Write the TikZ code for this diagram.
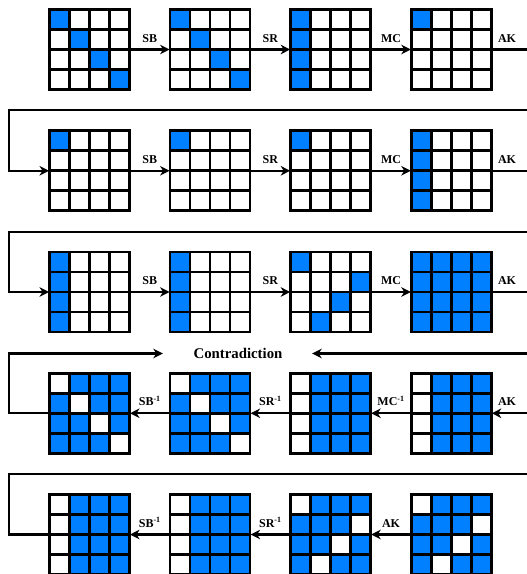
\documentclass[tikz,border=0pt]{standalone}
\usepackage{fontspec}
\setmainfont{Liberation Serif}
\usetikzlibrary{arrows.meta}
\definecolor{aesblue}{RGB}{0,127,255}
\tikzset{
  gridbox/.style={rectangle,minimum size=80pt,inner sep=0pt,outer sep=0pt},
  gridline/.style={line width=2.6pt,line cap=rect},
  conn/.style={line width=2.2pt},
  arr/.style={conn,shorten >=0.5pt,-{Stealth[length=9.5pt,width=9.5pt,inset=3pt]}},
  oplabel/.style={font=\bfseries\fontsize{12}{12}\selectfont,anchor=base,inner sep=0pt},
  contra/.style={font=\bfseries\fontsize{14.8}{15}\selectfont,anchor=base,inner sep=0pt},
}
\def\patD{1,0,0,0,0,1,0,0,0,0,1,0,0,0,0,1}
\def\patC{1,0,0,0,1,0,0,0,1,0,0,0,1,0,0,0}
\def\patS{1,0,0,0,0,0,0,0,0,0,0,0,0,0,0,0}
\def\patR{1,0,0,0,0,0,0,1,0,0,1,0,0,1,0,0}
\def\patF{1,1,1,1,1,1,1,1,1,1,1,1,1,1,1,1}
\def\patND{0,1,1,1,1,0,1,1,1,1,0,1,1,1,1,0}
\def\patNC{0,1,1,1,0,1,1,1,0,1,1,1,0,1,1,1}
\def\patNR{0,1,1,1,1,1,1,0,1,1,0,1,1,0,1,1}
\newcommand{\aesgrid}[4]{%
  \node[gridbox] (#1) at (#2+40,#3+40) {};
  \foreach \v [count=\i from 0] in #4 {%
    \pgfmathtruncatemacro\rr{int(\i/4)}%
    \pgfmathtruncatemacro\cc{mod(\i,4)}%
    \ifnum\v=1 \fill[aesblue] (#2+20*\cc,#3+20*\rr) rectangle ++(20,20);\fi
  }%
  \foreach \k in {0,20,40,60,80} {%
    \draw[gridline] (#2+\k,#3) -- (#2+\k,#3+80);
    \draw[gridline] (#2,#3+\k) -- (#2+80,#3+\k);
  }%
}
\begin{document}
\begin{tikzpicture}[x=1pt,y=-1pt]
\fill[white] (0,0) rectangle (527,574);
\useasboundingbox (0,0) rectangle (527,574);
% row 1
\aesgrid{g11}{49.5}{9.5}{\patD}
\aesgrid{g12}{170.1}{9.5}{\patD}
\aesgrid{g13}{290.7}{9.5}{\patC}
\aesgrid{g14}{411.3}{9.5}{\patS}
% row 2
\aesgrid{g21}{49.5}{130.75}{\patS}
\aesgrid{g22}{170.1}{130.75}{\patS}
\aesgrid{g23}{290.7}{130.75}{\patS}
\aesgrid{g24}{411.3}{130.75}{\patC}
% row 3
\aesgrid{g31}{49.5}{252}{\patC}
\aesgrid{g32}{170.1}{252}{\patC}
\aesgrid{g33}{290.7}{252}{\patR}
\aesgrid{g34}{411.3}{252}{\patF}
% row 4
\aesgrid{g41}{49.5}{373.25}{\patND}
\aesgrid{g42}{170.1}{373.25}{\patND}
\aesgrid{g43}{290.7}{373.25}{\patNC}
\aesgrid{g44}{411.3}{373.25}{\patNC}
% row 5
\aesgrid{g51}{49.5}{494.5}{\patNC}
\aesgrid{g52}{170.1}{494.5}{\patNC}
\aesgrid{g53}{290.7}{494.5}{\patNR}
\aesgrid{g54}{411.3}{494.5}{\patNR}

% coordinates
\coordinate (r1) at (528,49.5);
\coordinate (t1r) at (528,110);
\coordinate (t1l) at (9,110);
\coordinate (r2) at (528,170.75);
\coordinate (t2r) at (528,231.8);
\coordinate (t2l) at (9,231.8);
\coordinate (r3) at (528,292);
\coordinate (r4) at (528,413.25);
\coordinate (t4l) at (9,353.5);
\coordinate (c4l) at (163.3,353.5);
\coordinate (t4r) at (528,353.5);
\coordinate (c4r) at (311.7,353.5);
\coordinate (t5r) at (528,474);
\coordinate (t5l) at (9,474);

% row 1 connectors
\draw[arr] (g11.east) -- (g12.west);
\draw[arr] (g12.east) -- (g13.west);
\draw[arr] (g13.east) -- (g14.west);
\draw[conn] (g14.east) -- (r1);
\node[oplabel] (a11) at (149.8,42) {SB};
\node[oplabel] (a12) at (270.4,42) {SR};
\node[oplabel] (a13) at (391,42) {MC};
\node[oplabel] (a14) at (507,42) {AK};
% loop 1
\draw[arr] (t1r) -- (t1l) |- (g21.west);
% row 2
\draw[arr] (g21.east) -- (g22.west);
\draw[arr] (g22.east) -- (g23.west);
\draw[arr] (g23.east) -- (g24.west);
\draw[conn] (g24.east) -- (r2);
\node[oplabel] (a21) at (149.8,163.25) {SB};
\node[oplabel] (a22) at (270.4,163.25) {SR};
\node[oplabel] (a23) at (391,163.25) {MC};
\node[oplabel] (a24) at (507,163.25) {AK};
% loop 2
\draw[arr] (t2r) -- (t2l) |- (g31.west);
% row 3
\draw[arr] (g31.east) -- (g32.west);
\draw[arr] (g32.east) -- (g33.west);
\draw[arr] (g33.east) -- (g34.west);
\draw[conn] (g34.east) -- (r3);
\node[oplabel] (a31) at (149.8,284.5) {SB};
\node[oplabel] (a32) at (270.4,284.5) {SR};
\node[oplabel] (a33) at (391,284.5) {MC};
\node[oplabel] (a34) at (507,284.5) {AK};
% contradiction
\node[contra] (ctr) at (238,358.3) {Contradiction};
\draw[arr] (g41.west) -| (t4l) -- (c4l);
\draw[arr] (t4r) -- (c4r);
% row 4
\draw[arr] (r4) -- (g44.east);
\draw[arr] (g44.west) -- (g43.east);
\draw[arr] (g43.west) -- (g42.east);
\draw[arr] (g42.west) -- (g41.east);
\node[oplabel] (a41) at (149.8,405.75) {SB\textsuperscript{-1}};
\node[oplabel] (a42) at (270.4,405.75) {SR\textsuperscript{-1}};
\node[oplabel] (a43) at (391,405.75) {MC\textsuperscript{-1}};
\node[oplabel] (a44) at (507,405.75) {AK};
% loop 5
\draw[conn] (t5r) -- (t5l) |- (g51.west);
% row 5
\draw[arr] (g54.west) -- (g53.east);
\draw[arr] (g53.west) -- (g52.east);
\draw[arr] (g52.west) -- (g51.east);
\node[oplabel] (a51) at (149.8,527) {SB\textsuperscript{-1}};
\node[oplabel] (a52) at (270.4,527) {SR\textsuperscript{-1}};
\node[oplabel] (a53) at (391,527) {AK};
\end{tikzpicture}
\end{document}
